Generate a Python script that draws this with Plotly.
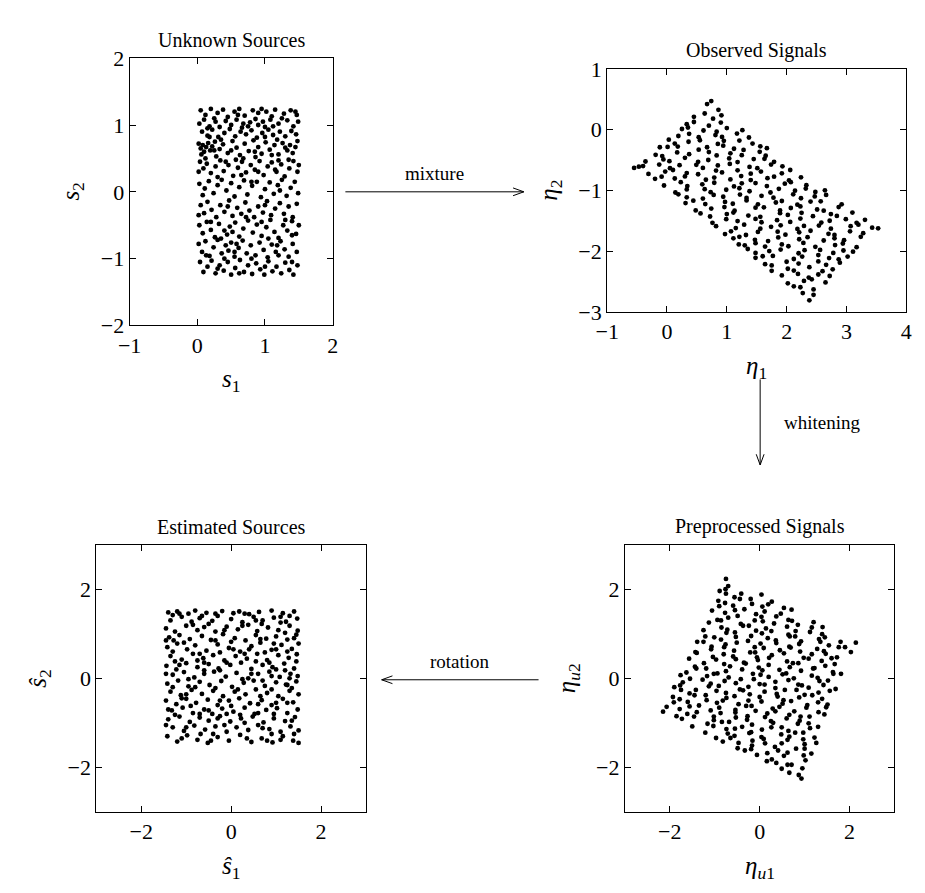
import plotly.graph_objects as go

# ---------------- data ----------------
# Unknown sources (s1, s2)
src_pts = [
    (0.05,1.22),(0.12,1.15),(0.2,1.24),(0.3,1.18),(0.38,1.23),(0.45,1.12),(0.55,1.2),(0.62,1.24),(0.7,1.14),(0.82,1.22),(0.9,1.18),(0.95,1.24),(1.02,1.2),(1.1,1.13),(1.15,1.23),(1.28,1.17),(1.38,1.22),(1.47,1.15),
    (0.03,1.02),(0.1,1.08),(0.18,0.98),(0.27,1.05),(0.33,0.97),(0.42,1.06),(0.5,1.0),(0.58,1.08),(0.66,0.96),(0.78,1.04),(0.86,1.09),(0.9,1.0),(0.97,1.05),(1.0,0.97),(1.08,1.08),(1.2,1.02),(1.33,1.07),(1.42,0.98),(1.49,1.05),
    (0.07,0.9),(0.15,0.84),(0.22,0.93),(0.31,0.82),(0.4,0.88),(0.48,0.94),(0.56,0.83),(0.64,0.9),(0.72,0.86),(0.8,0.92),(0.88,0.81),(0.96,0.88),(1.05,0.93),(1.12,0.85),(1.22,0.9),(1.3,0.83),(1.39,0.91),(1.46,0.86),
    (0.02,0.72),(0.05,0.65),(0.08,0.7),(0.1,0.6),(0.13,0.67),(0.16,0.73),(0.19,0.62),(0.22,0.68),(0.06,0.56),(0.26,0.75),(0.33,0.64),(0.38,0.71),(0.45,0.58),(0.52,0.76),(0.58,0.66),(0.63,0.55),(0.7,0.72),(0.76,0.61),(0.83,0.77),(0.9,0.67),(0.95,0.57),(1.01,0.74),(1.07,0.63),(1.14,0.7),(1.2,0.56),(1.26,0.73),(1.3,0.66),(1.33,0.62),(1.37,0.7),(1.41,0.58),(1.45,0.67),(1.48,0.76),(0.28,0.53),(0.86,0.52),(1.18,0.78),
    (0.04,0.45),(0.09,0.35),(0.14,0.42),(0.2,0.28),(0.27,0.38),(0.34,0.47),(0.39,0.31),(0.46,0.4),(0.53,0.24),(0.6,0.36),(0.66,0.45),(0.72,0.29),(0.79,0.4),(0.85,0.33),(0.92,0.46),(0.98,0.25),(1.04,0.38),(1.1,0.44),(1.17,0.3),(1.24,0.41),(1.29,0.23),(1.36,0.35),(1.42,0.46),(1.48,0.3),(0.57,0.48),(1.2,0.47),
    (0.03,0.12),(0.11,0.05),(0.17,0.16),(0.24,-0.02),(0.3,0.1),(0.36,0.18),(0.43,0.02),(0.5,0.13),(0.55,-0.07),(0.62,0.07),(0.69,0.17),(0.74,-0.04),(0.81,0.09),(0.88,0.15),(0.94,-0.08),(1.0,0.04),(1.07,0.14),(1.13,-0.03),(1.19,0.1),(1.25,0.18),(1.32,-0.06),(1.38,0.06),(1.44,0.15),(1.49,-0.02),
    (0.05,-0.2),(0.1,-0.32),(0.15,-0.15),(0.21,-0.27),(0.28,-0.38),(0.34,-0.2),(0.4,-0.3),(0.47,-0.13),(0.52,-0.36),(0.59,-0.24),(0.65,-0.33),(0.71,-0.16),(0.77,-0.28),(0.84,-0.38),(0.9,-0.22),(0.97,-0.31),(1.03,-0.14),(1.09,-0.35),(1.15,-0.25),(1.22,-0.17),(1.28,-0.33),(1.35,-0.22),(1.41,-0.38),(1.47,-0.18),
    (0.03,-0.5),(0.08,-0.62),(0.14,-0.45),(0.2,-0.57),(0.26,-0.68),(0.32,-0.48),(0.4,-0.58),(0.44,-0.64),(0.48,-0.52),(0.52,-0.6),(0.56,-0.46),(0.62,-0.67),(0.68,-0.55),(0.75,-0.43),(0.82,-0.61),(0.88,-0.49),(0.95,-0.66),(1.02,-0.53),(1.08,-0.42),(1.14,-0.6),(1.2,-0.69),(1.27,-0.5),(1.33,-0.58),(1.4,-0.44),(1.46,-0.63),
    (0.02,-0.78),(0.07,-0.9),(0.12,-0.74),(0.18,-0.96),(0.24,-0.83),(0.3,-0.72),(0.36,-0.92),(0.42,-0.8),(0.46,-0.88),(0.5,-0.76),(0.55,-0.97),(0.61,-0.84),(0.67,-0.73),(0.73,-0.92),(0.79,-0.8),(0.86,-0.95),(0.92,-0.76),(0.98,-0.87),(1.04,-0.98),(1.1,-0.79),(1.16,-0.9),(1.23,-0.74),(1.29,-0.86),(1.35,-0.97),(1.41,-0.78),(1.47,-0.9),
    (0.04,-1.05),(0.09,-1.2),(0.15,-1.12),(0.21,-1.03),(0.27,-1.22),(0.33,-1.1),(0.39,-1.18),(0.45,-1.05),(0.5,-1.24),(0.56,-1.14),(0.63,-1.02),(0.69,-1.2),(0.75,-1.1),(0.81,-1.23),(0.87,-1.07),(0.93,-1.16),(0.99,-1.24),(1.05,-1.04),(1.11,-1.19),(1.17,-1.12),(1.24,-1.22),(1.3,-1.06),(1.36,-1.17),(1.42,-1.24),(1.48,-1.1),
    (0.25,1.1),(0.6,1.15),(1.25,1.1),(0.15,0.95),(0.75,0.98),(1.45,1.2),(0.35,0.78),(1.0,0.82),(0.12,0.5),(0.5,0.62),
    (0.68,0.5),(1.1,0.55),(0.3,0.22),(0.9,0.3),(1.35,0.48),(0.08,-0.05),(0.65,0.25),(1.22,0.02),(0.45,-0.22),(1.0,-0.2),
    (0.2,-0.45),(0.72,-0.38),(1.3,-0.42),(0.35,-0.7),(0.58,-0.78),(1.05,-0.7),(1.4,-0.65),(0.13,-0.95),(0.8,-1.0),(1.2,-0.95),
    (0.3,-1.15),(0.62,-1.22),(1.0,-1.12),(1.4,-1.05),(0.02,-0.35),(0.02,0.3),(1.5,0.4),(1.5,-0.5),(0.85,0.6),(0.42,0.45),
    (0.18,0.82),(1.15,0.33),(0.55,-0.9),(0.95,-0.45),(0.25,0.62),(0.68,1.02),(1.12,0.98),(0.4,-1.0),(1.18,-0.8),(0.8,0.15),
]

# Observed signals (eta1, eta2)
obs_pts = [
    (0.67,0.42),(0.74,0.47),
    (0.63,0.265),(0.86,0.325),
    (0.45,0.21),(0.77,0.18),(0.91,0.235),
    (0.45,0.125),(0.70,0.065),(0.90,0.115),(0.33,0.09),
    (0.25,0.01),(0.35,0.035),(0.61,-0.015),(0.83,-0.035),(1.0,0.025),(1.26,-0.01),
    (0.19,-0.105),(0.37,-0.07),(0.53,-0.125),(0.81,-0.09),(0.92,-0.12),(1.17,-0.065),(1.37,-0.13),
    (0.03,-0.165),(0.13,-0.23),(0.36,-0.2),(0.55,-0.175),(0.85,-0.235),(0.95,-0.185),(1.21,-0.18),(1.43,-0.23),
    (0.01,-0.285),(0.18,-0.28),(0.53,-0.33),(0.67,-0.29),(0.94,-0.265),(1.12,-0.315),(1.28,-0.335),(1.56,-0.275),(1.67,-0.305),(-0.12,-0.29),
    (-0.19,-0.415),(-0.08,-0.435),(0.17,-0.375),(0.37,-0.405),(0.70,-0.37),(0.83,-0.425),(1.06,-0.39),(1.25,-0.42),(1.55,-0.365),(1.65,-0.43),
    (-0.36,-0.525),(-0.06,-0.49),(0.04,-0.52),(0.30,-0.465),(0.52,-0.53),(0.69,-0.5),(1.04,-0.475),(1.18,-0.535),(1.45,-0.485),(1.63,-0.48),(1.79,-0.53),
    (-0.40,-0.6),(-0.13,-0.575),(0.05,-0.635),(0.21,-0.585),(0.49,-0.58),(0.60,-0.63),(0.85,-0.59),(1.05,-0.565),(1.38,-0.615),(1.51,-0.635),(1.74,-0.575),(1.93,-0.605),(-0.47,-0.61),(-0.55,-0.63),
    (-0.31,-0.73),(-0.03,-0.69),(0.10,-0.665),(0.33,-0.715),(0.52,-0.735),(0.82,-0.675),(0.92,-0.705),(1.18,-0.67),(1.40,-0.725),(1.57,-0.69),(1.92,-0.72),(2.06,-0.665),
    (-0.09,-0.775),(0.13,-0.805),(0.30,-0.77),(0.65,-0.825),(0.79,-0.79),(1.06,-0.82),(1.24,-0.765),(1.40,-0.83),(1.68,-0.8),(1.79,-0.775),(2.04,-0.835),(2.24,-0.785),(-0.2,-0.81),
    (-0.05,-0.92),(0.23,-0.865),(0.34,-0.93),(0.59,-0.9),(0.79,-0.875),(1.12,-0.935),(1.25,-0.885),(1.48,-0.88),(1.67,-0.93),(1.97,-0.89),(2.07,-0.865),(2.33,-0.915),
    (0.14,-1.035),(0.33,-0.985),(0.63,-0.98),(0.73,-1.03),(0.99,-0.99),(1.21,-0.965),(1.38,-1.015),(1.73,-1.035),(1.87,-0.975),(2.14,-1.005),(2.32,-0.97),(2.48,-1.025),(2.64,-1.0),
    (0.19,-1.065),(0.33,-1.115),(0.60,-1.135),(0.78,-1.075),(0.94,-1.105),(1.22,-1.07),(1.33,-1.125),(1.58,-1.09),(1.78,-1.12),(2.11,-1.065),(2.24,-1.13),(2.47,-1.1),(2.66,-1.075),
    (0.44,-1.17),(0.64,-1.225),(0.97,-1.19),(1.10,-1.22),(1.33,-1.165),(1.52,-1.23),(1.82,-1.2),(1.92,-1.175),(2.18,-1.235),(2.40,-1.185),(2.57,-1.18),(2.92,-1.23),(0.31,-1.21),
    (0.48,-1.33),(0.74,-1.3),(0.96,-1.275),(1.13,-1.335),(1.48,-1.285),(1.62,-1.28),(1.89,-1.33),(2.07,-1.29),(2.23,-1.265),(2.51,-1.315),(2.62,-1.335),(2.87,-1.275),
    (0.56,-1.38),(0.72,-1.43),(1.0,-1.39),(1.11,-1.365),(1.36,-1.415),(1.56,-1.435),(1.89,-1.375),(2.02,-1.405),(2.25,-1.37),(2.44,-1.425),(2.74,-1.39),(2.84,-1.42),(3.10,-1.365),
    (0.76,-1.535),(0.99,-1.475),(1.18,-1.505),(1.48,-1.47),(1.58,-1.525),(1.84,-1.49),(2.06,-1.52),(2.23,-1.465),(2.58,-1.53),(2.72,-1.5),(2.99,-1.475),(3.17,-1.535),(3.31,-1.485),
    (0.82,-1.59),(1.15,-1.62),(1.29,-1.565),(1.56,-1.63),(1.74,-1.6),(1.90,-1.575),(2.18,-1.635),(2.29,-1.585),(2.54,-1.58),(2.74,-1.63),(3.07,-1.59),(3.20,-1.565),(3.43,-1.615),(3.53,-1.625),
    (1.07,-1.675),(1.32,-1.735),(1.52,-1.685),(1.85,-1.68),(1.98,-1.73),(2.21,-1.69),(2.40,-1.665),(2.70,-1.715),(2.80,-1.735),(3.06,-1.675),(3.28,-1.705),(0.97,-1.72),
    (1.11,-1.79),(1.21,-1.765),(1.47,-1.815),(1.69,-1.835),(1.86,-1.775),(2.21,-1.805),(2.35,-1.77),(2.62,-1.825),(2.80,-1.79),(2.96,-1.82),(3.24,-1.765),
    (1.30,-1.905),(1.48,-1.87),(1.64,-1.925),(1.92,-1.89),(2.03,-1.92),(2.28,-1.865),(2.48,-1.93),(2.81,-1.9),(2.94,-1.875),(3.17,-1.935),(1.2,-1.89),
    (1.35,-1.965),(1.48,-2.03),(1.71,-2.0),(1.90,-1.975),(2.20,-2.035),(2.30,-1.985),(2.56,-1.98),(2.78,-2.03),(2.95,-1.99),(3.11,-2.01),
    (1.60,-2.085),(1.77,-2.08),(2.12,-2.13),(2.26,-2.09),(2.53,-2.065),(2.71,-2.115),(2.87,-2.135),(1.48,-2.11),(3.02,-2.09),
    (1.64,-2.215),(1.75,-2.235),(2.0,-2.175),(2.20,-2.205),(2.53,-2.17),(2.66,-2.225),(2.89,-2.19),
    (1.75,-2.325),(2.02,-2.29),(2.12,-2.32),(2.38,-2.265),(2.60,-2.33),(2.77,-2.3),
    (1.92,-2.4),(2.19,-2.375),(2.37,-2.435),(2.53,-2.385),(2.72,-2.41),
    (2.02,-2.53),(2.29,-2.49),(2.42,-2.465),(2.65,-2.515),
    (2.23,-2.595),(2.45,-2.63),(2.12,-2.58),
    (2.27,-2.69),(2.45,-2.72),
    (2.38,-2.81),
]

# Preprocessed (whitened) signals (eta_u1, eta_u2)
pre_pts = [
    (-0.75,2.23),
    (-0.70,2.07),
    (-0.89,1.96),(-0.76,2.00),(-0.41,1.90),
    (-0.75,1.90),(-0.56,1.82),(-0.20,1.78),(0.04,1.88),
    (-0.92,1.74),(-0.77,1.69),(-0.44,1.78),(-0.17,1.67),(0.27,1.72),
    (-0.90,1.62),(-0.59,1.63),(-0.34,1.55),(0.06,1.61),(0.19,1.66),(0.54,1.58),
    (-1.06,1.52),(-0.77,1.47),(-0.55,1.53),(-0.08,1.44),(0.11,1.50),(0.47,1.45),(0.71,1.54),
    (-0.94,1.31),(-0.70,1.36),(-0.49,1.40),(-0.11,1.30),(0.04,1.38),(0.37,1.39),(0.64,1.31),
    (-1.13,1.25),(-0.86,1.30),(-0.42,1.22),(-0.24,1.18),(0.07,1.28),(0.32,1.23),(0.72,1.29),(0.85,1.20),(1.20,1.26),
    (-1.25,1.08),(-0.85,1.14),(-0.72,1.09),(-0.37,1.18),(-0.08,1.07),(0.14,1.12),(0.61,1.16),(0.80,1.06),(1.16,1.14),(1.40,1.15),
    (-1.21,0.94),(-0.74,1.02),(-0.55,1.03),(-0.19,0.95),(0.05,1.01),(0.26,1.06),(0.64,0.98),(0.79,0.94),(1.12,1.04),(1.39,0.99),
    (-1.39,0.82),(-1.01,0.92),(-0.86,0.87),(-0.53,0.93),(-0.26,0.84),(0.18,0.90),(0.36,0.85),(0.67,0.94),(0.92,0.83),(1.32,0.88),(1.45,0.92),(1.80,0.82),
    (-1.25,0.82),(-1.07,0.71),(-0.76,0.76),(-0.51,0.80),(-0.11,0.70),(0.02,0.78),(0.37,0.79),(0.66,0.71),(0.88,0.77),(1.35,0.82),(1.54,0.74),(1.90,0.70),(2.14,0.80),
    (-1.43,0.59),(-1.08,0.65),(-0.79,0.70),(-0.57,0.62),(-0.10,0.58),(0.09,0.68),(0.45,0.63),(0.69,0.69),(0.90,0.60),(1.28,0.66),(1.43,0.61),(1.76,0.70),(2.03,0.59),
    (-1.40,0.57),(-1.04,0.48),(-0.80,0.54),(-0.59,0.49),(-0.21,0.58),(-0.06,0.47),(0.27,0.52),(0.54,0.56),(0.98,0.46),(1.16,0.54),(1.47,0.55),(1.72,0.47),
    (-1.57,0.44),(-1.24,0.34),(-0.97,0.42),(-0.53,0.43),(-0.35,0.35),(-0.04,0.41),(0.21,0.46),(0.61,0.38),(0.74,0.34),(1.09,0.44),(1.38,0.39),(1.60,0.45),
    (-1.44,0.26),(-1.19,0.22),(-0.79,0.32),(-0.66,0.27),(-0.31,0.33),(-0.02,0.24),(0.20,0.30),(0.67,0.25),(0.86,0.34),(1.22,0.23),(1.46,0.28),(1.67,0.32),
    (-1.63,0.13),(-1.41,0.22),(-0.94,0.11),(-0.75,0.16),(-0.39,0.20),(-0.15,0.10),(0.06,0.18),(0.44,0.19),(0.59,0.11),(0.92,0.17),(1.19,0.22),(1.63,0.14),(1.81,0.10),
    (-1.76,0.07),(-1.55,-0.01),(-1.17,0.05),(-1.02,0.10),(-0.69,0.02),(-0.42,-0.02),(0.02,0.08),(0.20,0.03),(0.51,0.09),(0.76,0.0),(1.16,0.06),(1.29,0.01),(1.64,0.10),
    (-1.71,-0.09),(-1.27,-0.03),(-1.09,-0.12),(-0.78,-0.06),(-0.53,-0.11),(-0.13,-0.02),(0.0,-0.13),(0.35,-0.08),(0.64,-0.04),(0.86,-0.14),(1.33,-0.06),(1.52,-0.05),
    (-1.90,-0.20),(-1.77,-0.16),(-1.42,-0.26),(-1.13,-0.18),(-0.91,-0.17),(-0.44,-0.25),(-0.25,-0.19),(0.11,-0.14),(0.35,-0.22),(0.56,-0.26),(0.94,-0.16),(1.09,-0.21),(1.42,-0.15),(1.69,-0.24),
    (-1.75,-0.26),(-1.56,-0.34),(-1.20,-0.38),(-0.96,-0.28),(-0.75,-0.33),(-0.37,-0.27),(-0.22,-0.36),(0.11,-0.30),(0.38,-0.35),(0.82,-0.26),(1.0,-0.37),(1.31,-0.32),(1.56,-0.28),
    (-1.93,-0.42),(-1.78,-0.47),(-1.45,-0.38),(-1.18,-0.49),(-0.74,-0.44),(-0.56,-0.40),(-0.25,-0.50),(0.0,-0.42),(0.40,-0.41),(0.53,-0.49),(0.88,-0.43),(1.17,-0.38),(1.39,-0.46),
    (-1.91,-0.54),(-1.60,-0.53),(-1.35,-0.61),(-0.95,-0.55),(-0.82,-0.50),(-0.47,-0.58),(-0.18,-0.62),(0.04,-0.52),(0.51,-0.57),(0.70,-0.51),(1.06,-0.60),(1.30,-0.54),(1.51,-0.59),
    (-2.07,-0.64),(-1.78,-0.69),(-1.56,-0.63),(-1.09,-0.72),(-0.90,-0.66),(-0.54,-0.71),(-0.30,-0.62),(-0.09,-0.73),(0.29,-0.68),(0.44,-0.64),(0.77,-0.74),(1.04,-0.66),(1.48,-0.65),(-2.15,-0.75),
    (-1.85,-0.85),(-1.61,-0.80),(-1.40,-0.76),(-1.02,-0.86),(-0.87,-0.78),(-0.54,-0.77),(-0.27,-0.85),(0.17,-0.79),(0.35,-0.74),(0.66,-0.82),(0.91,-0.86),(1.31,-0.76),(1.44,-0.81),
    (-1.73,-0.91),(-1.46,-0.86),(-1.02,-0.94),(-0.84,-0.98),(-0.53,-0.88),(-0.28,-0.93),(0.12,-0.87),(0.25,-0.96),(0.60,-0.90),(0.89,-0.95),(1.11,-0.86),
    (-1.50,-1.08),(-1.16,-1.02),(-1.03,-1.07),(-0.68,-0.98),(-0.39,-1.09),(-0.17,-1.04),(0.30,-1.00),(0.49,-1.10),(0.85,-1.02),(1.09,-1.01),(1.30,-1.09),
    (-1.21,-1.22),(-0.74,-1.14),(-0.55,-1.13),(-0.19,-1.21),(0.05,-1.15),(0.26,-1.10),(0.64,-1.18),(0.79,-1.22),(1.12,-1.12),
    (-0.97,-1.34),(-0.71,-1.24),(-0.56,-1.29),(-0.23,-1.23),(0.04,-1.32),(0.48,-1.26),(0.66,-1.31),(0.97,-1.22),(1.22,-1.33),
    (-0.65,-1.34),(-0.47,-1.45),(-0.16,-1.40),(0.09,-1.36),(0.49,-1.46),(0.62,-1.38),(0.97,-1.37),(1.26,-1.45),(-0.82,-1.42),
    (-0.49,-1.57),(-0.17,-1.51),(0.12,-1.46),(0.34,-1.54),(0.81,-1.58),(1.0,-1.48),
    (-0.19,-1.59),(0.17,-1.68),(0.41,-1.62),(0.62,-1.67),(1.0,-1.58),(1.15,-1.69),(-0.33,-1.62),
    (-0.06,-1.72),(0.27,-1.82),(0.54,-1.74),(0.98,-1.73),
    (0.37,-1.90),(0.62,-1.94),(1.02,-1.84),(0.16,-1.86),
    (0.49,-2.03),(0.71,-1.94),(0.95,-2.02),
    (0.66,-2.12),(0.87,-2.17),(0.93,-2.25),
]

# Estimated sources (s^1, s^2)
est_pts = [
    (-1.4,1.48),(-1.2,1.5),(-0.95,1.45),(-0.8,1.52),(-0.55,1.47),(-0.2,1.51),(0.05,1.46),(0.18,1.5),(0.4,1.44),(0.62,1.49),(0.9,1.52),(1.15,1.46),(1.4,1.5),
    (-1.35,1.3),(-1.1,1.38),(-0.88,1.27),(-0.7,1.35),(-0.42,1.29),(-0.3,1.4),(0.0,1.33),(0.25,1.26),(0.5,1.38),(0.7,1.3),(0.95,1.36),(1.22,1.27),(1.47,1.34),
    (-1.45,1.12),(-1.25,1.05),(-1.0,1.18),(-0.75,1.08),(-0.6,1.15),(-0.35,1.05),(-0.1,1.16),(0.15,1.1),(0.38,1.2),(0.58,1.06),(0.82,1.14),(1.05,1.08),(1.3,1.18),(1.48,1.07),
    (-1.38,0.92),(-1.28,0.85),(-1.15,0.97),(-0.92,0.88),(-0.65,0.95),(-0.45,0.86),(-0.18,0.99),(0.08,0.9),(0.32,0.85),(0.55,0.97),(0.78,0.89),(1.0,0.94),(1.25,0.87),(1.45,0.98),
    (-1.42,0.7),(-1.2,0.78),(-0.98,0.65),(-0.8,0.74),(-0.55,0.62),(-0.3,0.76),(-0.05,0.68),(0.2,0.6),(0.45,0.72),(0.65,0.8),(0.9,0.64),(1.12,0.75),(1.35,0.66),(1.5,0.78),
    (-1.35,0.5),(-1.1,0.42),(-0.85,0.55),(-0.62,0.45),(-0.4,0.52),(-0.15,0.4),(0.1,0.5),(0.35,0.44),(0.58,0.55),(0.8,0.41),(1.05,0.52),(1.28,0.46),(1.46,0.54),
    (-1.44,0.28),(-1.22,0.2),(-1.0,0.34),(-0.75,0.25),(-0.5,0.32),(-0.28,0.22),(-0.02,0.3),(0.22,0.35),(0.45,0.21),(0.7,0.3),(0.92,0.25),(1.18,0.33),(1.4,0.22),
    (-1.3,0.08),(-1.05,0.14),(-0.82,0.02),(-0.6,0.1),(-0.38,0.15),(-0.12,0.04),(0.12,0.12),(0.38,0.0),(0.6,0.1),(0.85,0.15),(1.08,0.03),(1.32,0.1),(1.48,0.05),
    (-1.42,-0.12),(-1.18,-0.05),(-0.95,-0.18),(-0.7,-0.08),(-0.48,-0.15),(-0.22,-0.06),(0.02,-0.19),(0.28,-0.1),(0.5,-0.05),(0.75,-0.17),(1.0,-0.09),(1.22,-0.14),(1.45,-0.07),
    (-1.35,-0.3),(-1.12,-0.38),(-0.88,-0.26),(-0.65,-0.35),(-0.4,-0.28),(-0.18,-0.4),(0.08,-0.3),(0.32,-0.36),(0.55,-0.25),(0.8,-0.33),(1.05,-0.4),(1.3,-0.28),(1.5,-0.36),
    (-1.45,-0.5),(-1.22,-0.58),(-1.0,-0.46),(-0.78,-0.55),(-0.52,-0.48),(-0.3,-0.6),(-0.05,-0.5),(0.18,-0.45),(0.42,-0.56),(0.68,-0.49),(0.9,-0.6),(1.15,-0.46),(1.38,-0.54),
    (-1.32,-0.72),(-1.08,-0.66),(-0.85,-0.78),(-0.6,-0.7),(-0.42,-0.8),(-0.2,-0.68),(0.05,-0.75),(0.3,-0.66),(0.52,-0.8),(0.78,-0.71),(1.02,-0.67),(1.25,-0.78),(1.48,-0.7),
    (-1.4,-0.92),(-1.15,-0.86),(-0.92,-0.98),(-0.7,-0.88),(-0.5,-0.95),(-0.25,-0.85),(-0.02,-0.97),(0.22,-0.9),(0.48,-0.86),(0.72,-0.99),(0.95,-0.9),(1.2,-0.96),(1.42,-0.87),
    (-1.3,-1.1),(-1.05,-1.18),(-0.82,-1.06),(-0.58,-1.15),(-0.35,-1.08),(-0.1,-1.2),(0.12,-1.1),(0.38,-1.16),(0.6,-1.05),(0.85,-1.14),(1.1,-1.2),(1.32,-1.08),(1.5,-1.17),
    (-1.42,-1.3),(-1.2,-1.42),(-0.98,-1.28),(-0.75,-1.38),(-0.52,-1.45),(-0.3,-1.32),(-0.05,-1.4),(0.2,-1.27),(0.45,-1.43),(0.68,-1.35),(0.92,-1.44),(1.15,-1.3),(1.38,-1.4),(1.5,-1.45),
    (-1.3,1.42),(-0.5,1.22),(0.3,1.45),(1.1,1.25),(-1.05,0.8),(0.0,0.82),(0.95,0.78),(-0.25,0.58),(0.75,0.58),(-1.25,0.38),
    (-0.6,0.18),(0.55,0.38),(1.25,0.6),(-0.95,-0.02),(0.25,-0.02),(1.2,0.18),(-1.3,-0.2),(-0.35,-0.22),(0.65,-0.4),(1.35,-0.22),
    (-0.9,-0.62),(0.0,-0.62),(1.0,-0.55),(-1.25,-0.82),(-0.3,-0.9),(0.6,-0.78),(1.35,-0.95),(-0.68,-1.25),(0.3,-1.0),(0.9,-1.25),
    (-1.45,-1.05),(-0.15,1.08),(0.68,1.22),(1.4,0.9),(-0.75,0.4),(0.4,0.65),(-1.1,-0.45),(0.9,0.05),(-0.5,-0.72),(1.1,-1.38),
    (-1.15,1.45),(-0.35,1.45),(0.55,1.3),(1.3,1.4),(-0.85,1.2),(0.25,1.18),(1.2,1.02),(-1.45,0.85),(-0.35,0.85),(0.65,0.88),
    (-0.7,0.55),(0.3,0.55),(1.0,0.65),(-1.15,0.3),(-0.1,0.35),(0.85,0.35),(1.45,0.38),(-1.45,0.1),(-0.25,0.18),(0.45,0.1),
    (1.0,0.2),(-0.8,-0.2),(0.15,-0.25),(0.9,-0.25),(1.3,0.0),(-1.0,-0.36),(-0.25,-0.5),(0.6,-0.58),(1.25,-0.55),(-1.4,-0.7),
    (-0.7,-0.8),(0.2,-0.82),(0.95,-0.8),(-1.0,-1.1),(-0.15,-1.05),(0.7,-1.12),(1.4,-1.25),(-1.1,-1.35),(-0.4,-1.25),(0.35,-1.35),
    (1.25,-0.15),(-0.6,0.35),(0.05,0.65),(-1.3,0.6),(0.7,-0.05),(-0.1,-0.8),(1.1,1.38),(-0.65,1.4),(0.8,-1.4),(-0.45,-1.4),
]

panel_titles = ["Unknown Sources", "Observed Signals", "Estimated Sources", "Preprocessed Signals"]
x_titles = ["<i>s</i><sub>1</sub>", "<i>η</i><sub>1</sub>", "<i>ŝ</i><sub>1</sub>", "<i>η</i><sub><i>u</i>1</sub>"]
y_titles = ["<i>s</i><sub>2</sub>", "<i>η</i><sub>2</sub>", "<i>ŝ</i><sub>2</sub>", "<i>η</i><sub><i>u</i>2</sub>"]
x_ranges = [[-1, 2], [-1, 4], [-3, 3], [-3, 3]]
y_ranges = [[-2, 2], [-3, 1], [-3, 3], [-3, 3]]
tick_steps = [1, 1, 2, 2]
arrow_labels = ["mixture", "whitening", "rotation"]

# ---------------- layout helpers ----------------
W, H = 925, 893
FONT = "Liberation Serif, Times New Roman, serif"

# axes boxes in pixels: (left, right, top, bottom)
boxes = [
    (120, 327, 47.5, 322.5),
    (607, 912, 58.5, 308.5),
    (86, 361, 548, 823),
    (625, 900, 548, 823),
]


def px(x):
    return x / W


def py(y):
    return 1 - y / H


fig = go.Figure()
layout = dict(
    width=W, height=H, margin=dict(l=0, r=0, t=0, b=0),
    paper_bgcolor="white", plot_bgcolor="white", showlegend=False,
    font=dict(family=FONT, size=22, color="black"),
)
annotations = []
shapes = []

for i, pts in enumerate([src_pts, obs_pts, est_pts, pre_pts]):
    xs = [p[0] for p in pts]
    ys = [p[1] for p in pts]
    sfx = "" if i == 0 else str(i + 1)
    fig.add_trace(go.Scatter(
        x=xs, y=ys, mode="markers",
        marker=dict(size=4.8, color="black", line=dict(width=0)),
        xaxis="x" + sfx, yaxis="y" + sfx, hoverinfo="skip",
    ))
    l, r, t, b = boxes[i]
    common = dict(
        showline=True, linecolor="black", linewidth=1, mirror="ticks",
        ticks="inside", ticklen=6, tickcolor="black", tickwidth=1,
        showgrid=False, zeroline=False, dtick=tick_steps[i], tick0=0,
        tickfont=dict(family=FONT, size=22, color="black"), fixedrange=True,
    )
    layout["xaxis" + sfx] = dict(common, domain=[px(l), px(r)], range=x_ranges[i],
                                 anchor="y" + sfx)
    layout["yaxis" + sfx] = dict(common, domain=[py(b), py(t)], range=y_ranges[i],
                                 anchor="x" + sfx)
    cx = (l + r) / 2
    annotations.append(dict(text=panel_titles[i], x=px(cx), y=py(t - 5),
                            xref="paper", yref="paper", showarrow=False,
                            xanchor="center", yanchor="bottom",
                            font=dict(family=FONT, size=20)))
    annotations.append(dict(text=x_titles[i], x=px(cx), y=py(b + 57),
                            xref="paper", yref="paper", showarrow=False,
                            xanchor="center", yanchor="middle",
                            font=dict(family=FONT, size=25)))
    annotations.append(dict(text=y_titles[i], x=px(l - 58), y=py((t + b) / 2),
                            xref="paper", yref="paper", showarrow=False,
                            xanchor="center", yanchor="middle", textangle=-90,
                            font=dict(family=FONT, size=25)))


def arrow(x0, y0, x1, y1, head=11, spread=4):
    shapes.append(dict(type="line", xref="paper", yref="paper",
                       x0=px(x0), y0=py(y0), x1=px(x1), y1=py(y1),
                       line=dict(color="black", width=1)))
    dx, dy = x1 - x0, y1 - y0
    n = (dx * dx + dy * dy) ** 0.5
    ux, uy = dx / n, dy / n
    bx, by = x1 - ux * head, y1 - uy * head
    for s in (1, -1):
        shapes.append(dict(type="line", xref="paper", yref="paper",
                           x0=px(bx - uy * spread * s), y0=py(by + ux * spread * s),
                           x1=px(x1), y1=py(y1),
                           line=dict(color="black", width=1)))


arrow(340, 185, 522, 185)
annotations.append(dict(text=arrow_labels[0], x=px(431), y=py(179), xref="paper", yref="paper",
                        showarrow=False, xanchor="center", yanchor="bottom",
                        font=dict(family=FONT, size=19)))
arrow(763, 378, 763, 466)
annotations.append(dict(text=arrow_labels[1], x=px(785), y=py(422), xref="paper", yref="paper",
                        showarrow=False, xanchor="left", yanchor="middle",
                        font=dict(family=FONT, size=19)))
arrow(537, 687, 377, 687)
annotations.append(dict(text=arrow_labels[2], x=px(457), y=py(681), xref="paper", yref="paper",
                        showarrow=False, xanchor="center", yanchor="bottom",
                        font=dict(family=FONT, size=19)))

layout["annotations"] = annotations
layout["shapes"] = shapes
fig.update_layout(**layout)
fig.write_html("out.html")
